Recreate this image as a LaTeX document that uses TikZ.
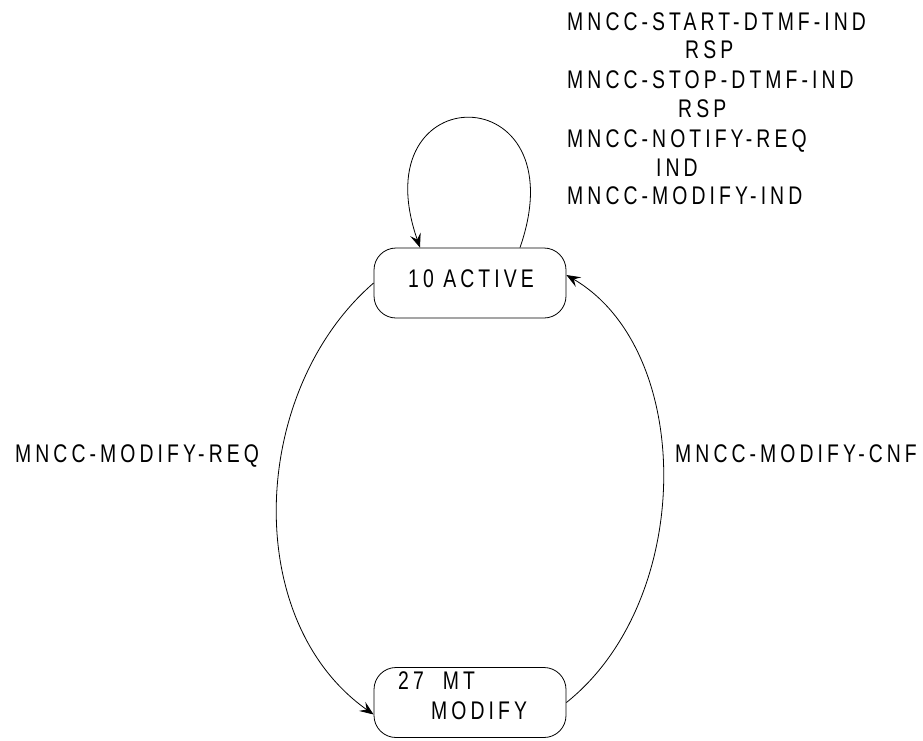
\documentclass[tikz,border=0pt]{standalone}
\usepackage{fontspec}
\setmainfont{Liberation Sans}[LetterSpace=16,FakeStretch=0.76]
\usetikzlibrary{arrows.meta}
\begin{document}
\begin{tikzpicture}[x=1pt,y=-1pt,
  state/.style={draw, line width=0.8pt, rounded corners=22pt, minimum width=192pt, minimum height=70pt, inner sep=0pt},
  lbl/.style={anchor=base west, inner sep=0pt, font=\fontsize{25.5}{30}\selectfont},
  arr/.style={-{Stealth[length=14pt,width=11pt,inset=5.5pt]}, line width=0.8pt}]
\useasboundingbox (0,0) rectangle (923,740);
% states
\node[state] (active) at (470,283) {};
\node[state] (modify) at (470,702.5) {};
\node[lbl] (tactive) at (408,287) {10 ACTIVE};
\node[lbl] (tmt) at (398,689) {27\hspace{19pt}MT};
\node[lbl] (tmod) at (431,719) {MODIFY};
% self loop
\draw[arr] ([xshift=50pt]active.north) .. controls (580,75) and (360,75) .. ([xshift=-50pt]active.north);
% transitions
\draw[arr] (active.west) .. controls (250,390) and (240,620) .. ([yshift=-12pt]modify.west);
\draw[arr] (modify.east) .. controls (695,600) and (695,350) .. ([yshift=8pt]active.east);
% labels
\node[lbl] (lreq) at (15,462) {MNCC-MODIFY-REQ};
\node[lbl] (lcnf) at (675,462) {MNCC-MODIFY-CNF};
\node[lbl] (l1) at (567,30) {MNCC-START-DTMF-IND};
\node[lbl] (l2) at (685,58) {RSP};
\node[lbl] (l3) at (567,88) {MNCC-STOP-DTMF-IND};
\node[lbl] (l4) at (678,117) {RSP};
\node[lbl] (l5) at (567,147) {MNCC-NOTIFY-REQ};
\node[lbl] (l6) at (656,176) {IND};
\node[lbl] (l7) at (567,204) {MNCC-MODIFY-IND};
\end{tikzpicture}
\end{document}
